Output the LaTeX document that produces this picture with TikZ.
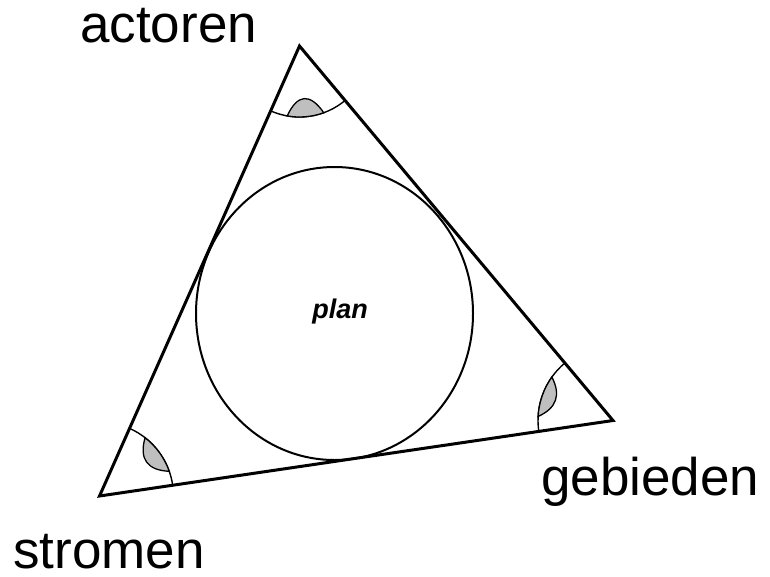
\documentclass[tikz,border=0pt]{standalone}
\usepackage{fontspec}
\setmainfont{Liberation Sans}
\usetikzlibrary{shapes.geometric,calc}
\begin{document}
\begin{tikzpicture}[x=1pt,y=-1pt,
  tri/.style={line width=3pt, line join=miter},
  lbl/.style={font=\fontsize{53}{60}\selectfont, inner sep=0pt, anchor=base west},
  angarc/.style={line width=1.4pt},
  lens/.style={fill=gray!50, draw=black, line width=1.3pt}]
\useasboundingbox (0,0) rectangle (770,576);
\coordinate (A) at (299.5,46);
\coordinate (B) at (99.5,496);
\coordinate (C) at (613,420.5);
% inscribed circle
\node[ellipse, draw, line width=2pt, minimum width=277pt, minimum height=293pt, inner sep=0pt] (ring) at (334.5,313.5) {};
\node[font=\fontsize{27}{30}\selectfont\bfseries\itshape, inner sep=0pt, anchor=base] (plan) at (340,318) {plan};
% triangle
\draw[tri] (A) -- (B) -- (C) -- cycle;
% angle marks: top
\coordinate (a0) at ($(A)+(70:71)$);
\coordinate (a2) at ($(A)+(100:71)$);
\coordinate (aq) at ($(A)+(85:37)$);
\draw[angarc] ($(A)+(50.07:71)$) arc[start angle=50.07, end angle=113.96, radius=71];
\path[lens] (a0) arc[start angle=70, end angle=100, radius=71]
  .. controls ($(a2)!2/3!(aq)$) and ($(a0)!2/3!(aq)$) .. (a0) -- cycle;
% bottom left
\coordinate (b0) at ($(B)+(-52:74)$);
\coordinate (b2) at ($(B)+(-19.5:74)$);
\coordinate (bq) at ($(B)+(-35.8:45)$);
\draw[angarc] ($(B)+(-66.04:74)$) arc[start angle=-66.04, end angle=-8.36, radius=74];
\path[lens] (b0) arc[start angle=-52, end angle=-19.5, radius=74]
  .. controls ($(b2)!2/3!(bq)$) and ($(b0)!2/3!(bq)$) .. (b0) -- cycle;
% right
\coordinate (c0) at ($(C)+(183.1:75)$);
\coordinate (c2) at ($(C)+(215.4:75)$);
\coordinate (cq) at ($(C)+(199.3:50)$);
\draw[angarc] ($(C)+(171.64:75)$) arc[start angle=171.64, end angle=230.07, radius=75];
\path[lens] (c0) arc[start angle=183.1, end angle=215.4, radius=75]
  .. controls ($(c2)!2/3!(cq)$) and ($(c0)!2/3!(cq)$) .. (c0) -- cycle;
% labels
\node[lbl] (actoren) at (80,42) {actoren};
\node[lbl] (gebieden) at (541,495) {gebieden};
\node[lbl] (stromen) at (13,568) {stromen};
\end{tikzpicture}
\end{document}
